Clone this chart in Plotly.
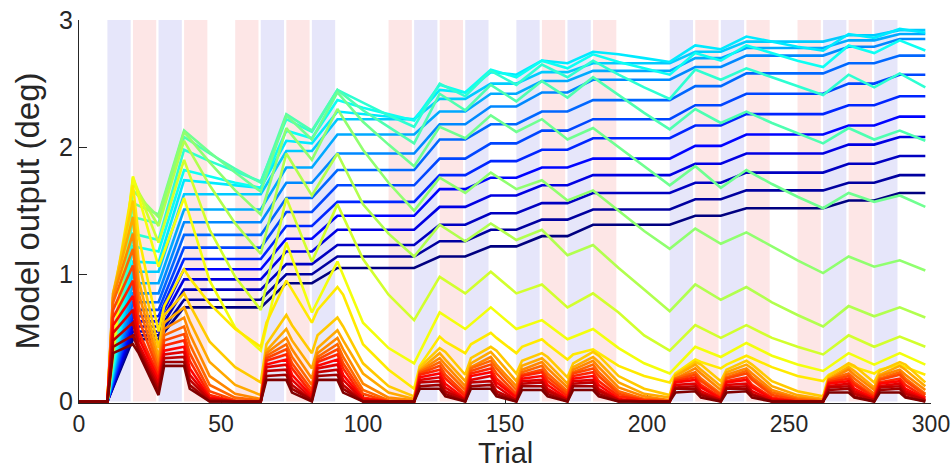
import plotly.graph_objects as go

# ---------------- data ----------------
trial_knots = [0, 10, 19, 28, 37, 46, 55, 64, 73, 82, 91, 100, 109, 118, 127, 136, 145, 154,
               163, 172, 181, 190, 199, 208, 217, 226, 235, 244, 253, 262, 271, 280, 289, 298]

trial_knots_fine = [0, 10, 12, 19, 21, 28, 30, 37, 39, 46, 55, 64, 66, 73, 75, 82, 84, 91, 93, 100,
                    109, 118, 120, 127, 129, 136, 138, 145, 147, 154, 156, 163, 165, 172, 174, 181, 183, 190, 199, 208,
                    210, 217, 219, 226, 228, 235, 237, 244, 253, 262, 264, 271, 273, 280, 282, 289, 291, 298]

# slow learners, no forgetting (navy -> light blue)
blue_0 = [0,0,0.49,0.49,0.74,0.74,0.74,0.74,0.93,0.93,1.05,1.05,1.05,1.05,1.14,1.14,1.22,1.22,1.30,1.30,1.39,1.39,1.39,1.39,1.46,1.46,1.52,1.52,1.52,1.52,1.58,1.58,1.64,1.64]
blue_1 = [0,0,0.52,0.52,0.80,0.80,0.80,0.80,1.00,1.00,1.14,1.14,1.14,1.14,1.26,1.26,1.35,1.35,1.43,1.43,1.51,1.51,1.51,1.51,1.59,1.59,1.66,1.66,1.66,1.66,1.72,1.72,1.78,1.78]
blue_2 = [0,0,0.55,0.55,0.88,0.88,0.88,0.88,1.08,1.08,1.23,1.23,1.23,1.23,1.39,1.39,1.48,1.48,1.56,1.56,1.64,1.64,1.64,1.64,1.72,1.72,1.80,1.80,1.80,1.80,1.87,1.87,1.93,1.93]
blue_3 = [0,0,0.59,0.59,0.96,0.96,0.96,0.96,1.18,1.18,1.35,1.35,1.35,1.35,1.53,1.53,1.62,1.62,1.70,1.70,1.78,1.78,1.78,1.78,1.87,1.87,1.95,1.95,1.95,1.95,2.02,2.02,2.08,2.08]
blue_4 = [0,0,0.63,0.63,1.04,1.04,1.04,1.04,1.28,1.28,1.46,1.46,1.46,1.46,1.67,1.67,1.76,1.76,1.84,1.84,1.91,1.91,1.91,1.91,2.01,2.01,2.10,2.10,2.10,2.10,2.17,2.17,2.24,2.24]
blue_5 = [0,0,0.67,0.67,1.12,1.12,1.12,1.12,1.38,1.38,1.57,1.57,1.57,1.57,1.78,1.78,1.89,1.89,1.98,1.98,2.07,2.07,2.07,2.07,2.17,2.17,2.26,2.26,2.26,2.26,2.33,2.33,2.40,2.40]
blue_6 = [0,0,0.72,0.72,1.21,1.21,1.21,1.21,1.49,1.49,1.70,1.70,1.70,1.70,1.91,1.91,2.03,2.03,2.13,2.13,2.22,2.22,2.22,2.22,2.33,2.33,2.42,2.42,2.42,2.42,2.50,2.50,2.57,2.57]
blue_7 = [0,0,0.78,0.78,1.31,1.31,1.31,1.31,1.60,1.60,1.82,1.82,1.82,1.82,2.06,2.06,2.18,2.18,2.28,2.28,2.37,2.37,2.37,2.37,2.48,2.48,2.58,2.58,2.58,2.58,2.66,2.66,2.72,2.72]
blue_8 = [0,0,0.85,0.85,1.41,1.41,1.41,1.41,1.72,1.72,1.95,1.95,1.95,1.95,2.18,2.18,2.32,2.32,2.43,2.43,2.53,2.53,2.53,2.53,2.63,2.63,2.72,2.72,2.72,2.72,2.79,2.79,2.85,2.85]
blue_9 = [0,0,0.93,0.93,1.51,1.51,1.51,1.51,1.84,1.84,2.10,2.10,2.10,2.10,2.28,2.28,2.42,2.42,2.52,2.52,2.60,2.60,2.60,2.60,2.70,2.70,2.78,2.78,2.78,2.78,2.84,2.84,2.89,2.89]
blue_10 = [0,0,1.02,1.02,1.63,1.63,1.63,1.63,1.97,1.97,2.22,2.22,2.22,2.22,2.38,2.38,2.50,2.50,2.59,2.59,2.66,2.66,2.66,2.66,2.75,2.75,2.83,2.83,2.83,2.83,2.88,2.88,2.92,2.92]

# cyan / green learners with some forgetting
green_11 = [0,0,1.10,1.09,1.74,1.72,1.70,1.68,2.05,2.03,2.28,2.26,2.24,2.22,2.45,2.43,2.59,2.57,2.68,2.66,2.75,2.73,2.70,2.67,2.80,2.77,2.87,2.83,2.79,2.76,2.89,2.86,2.93,2.90]
green_12 = [0,0,1.22,1.18,1.82,1.77,1.72,1.68,2.13,2.07,2.37,2.31,2.26,2.21,2.49,2.43,2.61,2.55,2.68,2.62,2.73,2.67,2.62,2.57,2.74,2.68,2.80,2.74,2.68,2.63,2.80,2.74,2.84,2.76]
green_13 = [0,0,1.32,1.27,1.98,1.89,1.81,1.73,2.22,2.12,2.45,2.35,2.25,2.16,2.50,2.40,2.60,2.49,2.65,2.55,2.68,2.57,2.47,2.38,2.61,2.53,2.62,2.55,2.48,2.41,2.57,2.47,2.58,2.47]
green_14 = [0,0,1.45,1.40,2.08,1.95,1.83,1.72,2.26,2.13,2.45,2.29,2.16,2.03,2.42,2.29,2.49,2.36,2.52,2.39,2.55,2.41,2.27,2.14,2.30,2.19,2.28,2.19,2.11,2.03,2.15,2.06,2.13,2.05]
green_15 = [0,0,1.56,1.47,2.13,1.96,1.80,1.65,2.25,2.06,2.43,2.20,2.02,1.85,2.16,2.07,2.25,2.12,2.22,2.06,2.15,2.00,1.85,1.70,1.85,1.68,1.82,1.71,1.61,1.52,1.64,1.57,1.62,1.53]
green_16 = [0,0,1.66,1.45,2.12,1.88,1.66,1.47,2.15,1.90,2.30,1.98,1.72,1.50,1.76,1.64,1.80,1.67,1.74,1.58,1.66,1.50,1.34,1.20,1.36,1.24,1.33,1.22,1.11,1.01,1.14,1.06,1.11,1.03]
green_17 = [0,0,1.72,1.38,2.05,1.70,1.40,1.16,1.95,1.62,1.95,1.55,1.32,1.14,1.39,1.26,1.40,1.27,1.35,1.15,1.23,1.05,0.88,0.71,0.92,0.80,0.90,0.78,0.68,0.59,0.75,0.67,0.74,0.66]
green_18 = [0,0,1.76,1.25,1.90,1.35,0.98,0.72,1.60,1.10,1.55,1.12,0.84,0.64,0.98,0.85,1.02,0.85,0.92,0.74,0.85,0.70,0.52,0.40,0.60,0.50,0.60,0.50,0.43,0.37,0.52,0.43,0.51,0.43]
green_19 = [0,0,1.77,1.06,1.60,0.95,0.58,0.40,1.25,0.70,1.10,0.62,0.42,0.30,0.70,0.57,0.74,0.57,0.64,0.49,0.57,0.42,0.30,0.22,0.43,0.35,0.46,0.36,0.29,0.24,0.38,0.29,0.38,0.29]

# fast learners, fast forgetting (yellow -> dark red), on the fine knots
warm_20 = [0,0,0.80,1.70,1.30,0.55,0.75,1.04,0.97,0.77, 0.57,0.43,0.62,0.95,0.88,0.62,0.72,0.90,0.84,0.45, 0.25,0.10,0.28,0.51,0.47,0.38,0.45,0.54,0.50,0.38, 0.43,0.49,0.45,0.33,0.37,0.41,0.38,0.28,0.20,0.15, 0.22,0.33,0.31,0.26,0.29,0.36,0.34,0.27,0.20,0.16, 0.21,0.29,0.27,0.22,0.25,0.29,0.27,0.21]
warm_21 = [0,0,0.85,1.58,1.10,0.42,0.68,0.85,0.76,0.47, 0.27,0.15,0.45,0.68,0.60,0.38,0.52,0.66,0.59,0.30, 0.12,0.04,0.27,0.42,0.39,0.21,0.34,0.43,0.40,0.22, 0.32,0.38,0.35,0.19,0.30,0.39,0.36,0.20,0.10,0.05, 0.21,0.31,0.29,0.16,0.25,0.32,0.29,0.16,0.08,0.04, 0.20,0.30,0.28,0.15,0.24,0.31,0.29,0.15]
warm_22 = [0,0,0.85,1.45,0.95,0.35,0.62,0.74,0.63,0.31, 0.13,0.05,0.40,0.57,0.48,0.26,0.42,0.56,0.48,0.22, 0.07,0.02,0.25,0.38,0.33,0.16,0.30,0.39,0.34,0.16, 0.28,0.34,0.30,0.14,0.27,0.35,0.31,0.15,0.06,0.03, 0.20,0.29,0.25,0.12,0.23,0.29,0.26,0.12,0.05,0.02, 0.18,0.27,0.24,0.11,0.21,0.28,0.25,0.12]
warm_23 = [0,0,0.82,1.32,0.85,0.30,0.57,0.66,0.53,0.20, 0.06,0.02,0.38,0.50,0.41,0.18,0.38,0.50,0.41,0.14, 0.03,0.01,0.24,0.34,0.29,0.12,0.27,0.35,0.29,0.12, 0.25,0.31,0.26,0.11,0.25,0.32,0.27,0.11,0.04,0.01, 0.18,0.26,0.22,0.09,0.21,0.26,0.22,0.09,0.03,0.01, 0.17,0.25,0.21,0.09,0.20,0.25,0.21,0.09]
warm_24 = [0,0,0.78,1.20,0.75,0.26,0.52,0.59,0.45,0.13, 0.03,0.01,0.36,0.45,0.35,0.13,0.35,0.45,0.35,0.09, 0.01,0,0.23,0.31,0.25,0.09,0.26,0.32,0.26,0.09, 0.23,0.28,0.22,0.08,0.23,0.29,0.23,0.08,0.02,0.01, 0.18,0.23,0.18,0.06,0.19,0.24,0.19,0.07,0.02,0, 0.17,0.22,0.18,0.06,0.18,0.23,0.18,0.06]
warm_25 = [0,0,0.72,1.07,0.65,0.23,0.48,0.53,0.38,0.08, 0.01,0,0.34,0.41,0.30,0.09,0.33,0.41,0.30,0.06, 0,0,0.22,0.28,0.21,0.06,0.24,0.29,0.22,0.06, 0.21,0.25,0.19,0.06,0.22,0.26,0.20,0.06,0.01,0, 0.17,0.21,0.16,0.05,0.18,0.22,0.17,0.05,0.01,0, 0.16,0.20,0.15,0.04,0.17,0.21,0.16,0.05]
warm_26 = [0,0,0.66,0.95,0.55,0.20,0.44,0.48,0.32,0.05, 0,0,0.32,0.37,0.26,0.06,0.31,0.37,0.26,0.03, 0,0,0.21,0.25,0.18,0.04,0.22,0.26,0.18,0.04, 0.20,0.23,0.16,0.04,0.20,0.23,0.16,0.04,0.01,0, 0.16,0.19,0.13,0.03,0.16,0.19,0.13,0.03,0,0, 0.15,0.18,0.13,0.03,0.15,0.18,0.13,0.03]
warm_27 = [0,0,0.60,0.83,0.50,0.17,0.40,0.43,0.26,0.03, 0,0,0.29,0.33,0.21,0.04,0.28,0.33,0.21,0.02, 0,0,0.19,0.22,0.14,0.02,0.20,0.23,0.15,0.03, 0.18,0.20,0.13,0.02,0.18,0.20,0.13,0.02,0,0, 0.15,0.17,0.11,0.02,0.15,0.17,0.11,0.02,0,0, 0.14,0.16,0.10,0.02,0.14,0.16,0.10,0.02]
warm_28 = [0,0,0.54,0.72,0.45,0.14,0.37,0.39,0.21,0.02, 0,0,0.27,0.29,0.17,0.02,0.26,0.29,0.17,0.01, 0,0,0.17,0.19,0.11,0.01,0.17,0.20,0.12,0.01, 0.16,0.17,0.10,0.01,0.16,0.17,0.10,0.01,0,0, 0.13,0.14,0.08,0.01,0.13,0.14,0.08,0.01,0,0, 0.12,0.14,0.08,0.01,0.12,0.14,0.08,0.01]
warm_29 = [0,0,0.48,0.62,0.42,0.11,0.34,0.35,0.17,0.01, 0,0,0.24,0.25,0.13,0.01,0.23,0.25,0.13,0, 0,0,0.15,0.16,0.08,0.01,0.15,0.16,0.08,0.01, 0.14,0.15,0.08,0.01,0.14,0.15,0.08,0.01,0,0, 0.11,0.12,0.06,0.01,0.11,0.12,0.06,0,0,0, 0.11,0.12,0.06,0.01,0.11,0.12,0.06,0.01]
warm_30 = [0,0,0.43,0.52,0.40,0.08,0.31,0.31,0.13,0, 0,0,0.20,0.21,0.10,0.01,0.20,0.21,0.10,0, 0,0,0.12,0.13,0.06,0,0.12,0.13,0.06,0, 0.12,0.12,0.06,0,0.12,0.12,0.06,0,0,0, 0.10,0.10,0.05,0,0.10,0.10,0.05,0,0,0, 0.09,0.10,0.04,0,0.09,0.10,0.04,0]
warm_31 = [0,0,0.38,0.45,0.38,0.05,0.28,0.28,0.10,0, 0,0,0.17,0.17,0.07,0,0.17,0.17,0.07,0, 0,0,0.10,0.10,0.04,0,0.10,0.10,0.04,0, 0.09,0.09,0.04,0,0.09,0.09,0.04,0,0,0, 0.07,0.08,0.03,0,0.07,0.08,0.03,0,0,0, 0.07,0.07,0.03,0,0.07,0.07,0.03,0]

blue_lines = [blue_0, blue_1, blue_2, blue_3, blue_4, blue_5, blue_6, blue_7, blue_8, blue_9, blue_10]
green_lines = [green_11, green_12, green_13, green_14, green_15, green_16, green_17, green_18, green_19]
warm_lines = [warm_20, warm_21, warm_22, warm_23, warm_24, warm_25, warm_26, warm_27, warm_28, warm_29, warm_30, warm_31]

# perturbation blocks shown as shaded bands
band_starts = [10, 19, 28, 37, 55, 64, 73, 82, 109, 118, 127, 136, 154, 163, 172, 181,
               208, 217, 226, 235, 253, 262, 271, 280]
band_kinds = ['B', 'P', 'B', 'P', 'P', 'B', 'P', 'B', 'P', 'B', 'P', 'B', 'B', 'P', 'B', 'P',
              'B', 'P', 'B', 'P', 'P', 'B', 'P', 'B']
band_len = 8.2

x_ticks = [0, 50, 100, 150, 200, 250, 300]
y_ticks = [0, 1, 2, 3]
x_title = "Trial"
y_title = "Model output (deg)"

# ---------------- styling ----------------
def jet(v):
    def c(x):
        return max(0.0, min(1.0, x))
    r = c(1.5 - abs(4 * v - 3))
    g = c(1.5 - abs(4 * v - 2))
    b = c(1.5 - abs(4 * v - 1))
    return f"rgb({int(round(r*255))},{int(round(g*255))},{int(round(b*255))})"

series = ([(trial_knots, s) for s in blue_lines] +
          [(trial_knots, s) for s in green_lines] +
          [(trial_knots_fine, s) for s in warm_lines])
n = len(series)

fig = go.Figure()
for i, (xs, ys) in enumerate(series):
    fig.add_trace(go.Scatter(x=xs, y=ys, mode="lines",
                             line=dict(color=jet(i / (n - 1)), width=2.6),
                             hoverinfo="skip", showlegend=False))

band_colors = {'B': 'rgb(230,230,250)', 'P': 'rgb(253,230,230)'}
for s, k in zip(band_starts, band_kinds):
    fig.add_shape(type="rect", xref="x", yref="y", x0=s, x1=s + band_len, y0=0, y1=3,
                  fillcolor=band_colors[k], line=dict(width=0), layer="below")

font_family = "Liberation Sans, Arial, sans-serif"
text_color = "#262626"

# axis titles as annotations (paper coords; plot area is 79..931 x 20..403 px)
fig.add_annotation(text=x_title, xref="paper", yref="paper", x=0.5, y=-0.1305,
                   xanchor="center", yanchor="middle", showarrow=False, borderpad=0,
                   font=dict(size=29, family=font_family, color=text_color))
fig.add_annotation(text=y_title, xref="paper", yref="paper", x=-0.061, y=0.5,
                   xanchor="center", yanchor="middle", textangle=-90, showarrow=False,
                   borderpad=0, font=dict(size=33, family=font_family, color=text_color))

fig.update_layout(
    width=952, height=471,
    margin=dict(l=79, r=21, t=20, b=68, autoexpand=False),
    paper_bgcolor="white", plot_bgcolor="white",
    showlegend=False,
    font=dict(family=font_family, color=text_color),
    xaxis=dict(range=[0, 300], tickvals=x_ticks, ticks="inside", ticklen=8, tickwidth=1.2,
               tickcolor=text_color, showline=True, linecolor=text_color, linewidth=1.2,
               showgrid=False, zeroline=False, tickfont=dict(size=23), layer="below traces",
               automargin=False),
    yaxis=dict(range=[-0.012, 3], tickvals=y_ticks, ticks="inside", ticklen=8, tickwidth=1.2,
               tickcolor=text_color, showline=True, linecolor=text_color, linewidth=1.2,
               showgrid=False, zeroline=False, tickfont=dict(size=25), layer="below traces",
               automargin=False),
)

fig.write_html("out.html")
